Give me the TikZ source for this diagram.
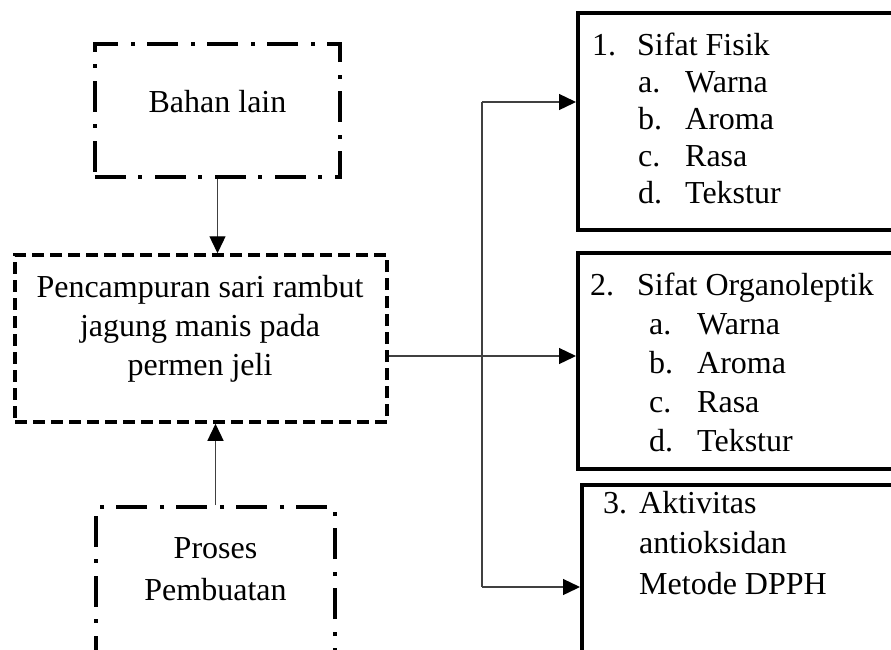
\documentclass[tikz,border=0pt]{standalone}
\usepackage{fontspec}
\setmainfont{Liberation Serif}
\usetikzlibrary{arrows.meta}

\begin{document}
\begin{tikzpicture}[x=1pt,y=-1pt]
%style for dash-dot box
\tikzstyle{ddbox} = [rectangle, draw=black, line width=4pt, dash pattern=on 31pt off 12pt on 4pt off 13pt]

%style for dashed box
\tikzstyle{dbox} = [rectangle, draw=black, line width=3.5pt, dash pattern=on 12pt off 6pt]

%style for solid box
\tikzstyle{sbox} = [rectangle, draw=black, line width=4pt]

%style for box text
\tikzstyle{btext} = [inner sep=0pt, anchor=base, font=\fontsize{32}{39}\selectfont]

%style for lines and arrows
\tikzstyle{line} = [line width=1.3pt, draw=black!75]
\tikzstyle{arr} = [line, -{Triangle[length=17pt,width=16pt,black]}]

\useasboundingbox (0,0) rectangle (891,649);
\clip (0,0) rectangle (891,649);

%place nodes
\node[ddbox, minimum width=245pt, minimum height=133pt] (bahan) at (217.5,110.5) {};
\node[btext] (bahantext) at (217.5,112) {Bahan lain};
\node[dbox, minimum width=372pt, minimum height=167pt] (mix) at (201,338.5) {};
\node[btext] (mixtext) at (200,297) {\begin{tabular}[t]{@{}c@{}}Pencampuran sari rambut\\ jagung manis pada\\ permen jeli\end{tabular}};
\node[ddbox, minimum width=239pt, minimum height=173pt] (proses) at (215.5,593.5) {};
\node[btext, font=\fontsize{32}{42}\selectfont] (prosestext) at (215.5,558) {\begin{tabular}[t]{@{}c@{}}Proses\\ Pembuatan\end{tabular}};

\node[sbox, minimum width=327pt, minimum height=217pt] (fisik) at (741.5,121.5) {};
\node[btext, anchor=base west, font=\fontsize{32}{37}\selectfont] (fisiktext) at (592,55) {\begin{tabular}[t]{@{}l@{}}\makebox[45pt][l]{1.}Sifat Fisik\\ \hspace*{46pt}\makebox[47pt][l]{a.}Warna\\ \hspace*{46pt}\makebox[47pt][l]{b.}Aroma\\ \hspace*{46pt}\makebox[47pt][l]{c.}Rasa\\ \hspace*{46pt}\makebox[47pt][l]{d.}Tekstur\end{tabular}};
\node[sbox, minimum width=327pt, minimum height=216pt] (organo) at (741.5,361) {};
\node[btext, anchor=base west] (organotext) at (590,295) {\begin{tabular}[t]{@{}l@{}}\makebox[47pt][l]{2.}Sifat Organoleptik\\ \hspace*{59pt}\makebox[48pt][l]{a.}Warna\\ \hspace*{59pt}\makebox[48pt][l]{b.}Aroma\\ \hspace*{59pt}\makebox[48pt][l]{c.}Rasa\\ \hspace*{59pt}\makebox[48pt][l]{d.}Tekstur\end{tabular}};
\node[sbox, minimum width=323pt, minimum height=195pt] (dpph) at (743.5,582.5) {};
\node[btext, anchor=base west, font=\fontsize{32}{40.5}\selectfont] (dpphtext) at (603,513) {\begin{tabular}[t]{@{}l@{}}\makebox[36pt][l]{3.}Aktivitas\\ \hspace*{36pt}antioksidan\\ \hspace*{36pt}Metode DPPH\end{tabular}};

\coordinate (top) at (482,102);
\coordinate (mid) at (482,356);
\coordinate (bot) at (482,587);

%connect nodes with lines
\draw[arr] (bahan.south) -- (bahan.south |- mix.north);
\draw[arr] (proses.north) -- (proses.north |- mix.south);
\draw[line] (mix.east |- mid) -- (mid);
\draw[line] (top) -- (bot);
\draw[arr] (top) -- (top -| fisik.west);
\draw[arr] (mid) -- (mid -| organo.west);
\draw[arr] (bot) -- (bot -| dpph.west);
\end{tikzpicture}
\end{document}
